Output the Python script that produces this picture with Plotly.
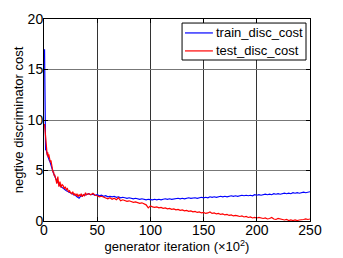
import plotly.graph_objects as go

x_a = [0.5, 1.0, 1.5, 2.0, 2.5, 3.0, 3.5, 4.0, 4.5, 5.0, 5.5, 6.0, 6.5, 7.0, 7.5, 8.0, 8.5, 9.0, 9.5, 10.0]
x_b = list(range(11, 41))
x_c = list(range(42, 251, 2))
iterations = x_a + x_b + x_c

train_disc_cost = (
    [17.0, 12.0, 7.0, 7.2, 6.8, 6.6, 6.5, 6.3, 6.2, 6.0, 5.9, 5.7, 5.6, 5.4, 5.2, 5.0, 4.9, 4.7, 4.6, 4.4]
    + [4.2, 4.0, 3.8, 3.6, 3.5, 3.4, 3.3, 3.2, 3.1, 3.05, 3.0, 2.95, 2.9, 2.8, 2.75, 2.7, 2.65, 2.6, 2.55, 2.5,
       2.4, 2.3, 2.25, 2.4, 2.5, 2.45, 2.6, 2.55, 2.6, 2.6]
    + [2.7, 2.6, 2.65, 2.55, 2.6, 2.5, 2.55, 2.45, 2.5, 2.4,
       2.45, 2.4, 2.45, 2.35, 2.4, 2.3, 2.35, 2.3, 2.25, 2.3,
       2.25, 2.2, 2.25, 2.2, 2.15, 2.2, 2.15, 2.1, 2.15, 2.1,
       2.1, 2.15, 2.1, 2.15, 2.1, 2.15, 2.2, 2.15, 2.2, 2.15,
       2.2, 2.2, 2.25, 2.2, 2.25, 2.2, 2.25, 2.3, 2.25, 2.3,
       2.3, 2.25, 2.3, 2.35, 2.3, 2.35, 2.3, 2.4, 2.35, 2.4,
       2.35, 2.4, 2.45, 2.4, 2.45, 2.4, 2.45, 2.5, 2.45, 2.5,
       2.45, 2.5, 2.55, 2.5, 2.55, 2.5, 2.55, 2.5, 2.6, 2.55,
       2.6, 2.55, 2.6, 2.65, 2.6, 2.65, 2.6, 2.7, 2.65, 2.7,
       2.65, 2.7, 2.75, 2.7, 2.75, 2.7, 2.8, 2.75, 2.8, 2.75,
       2.8, 2.85, 2.8, 2.85, 2.9]
)

test_disc_cost = (
    [9.6, 9.0, 8.2, 7.6, 7.0, 6.5, 6.8, 6.3, 6.6, 6.1, 6.0, 5.8, 6.0, 5.6, 5.3, 5.1, 4.8, 4.9, 4.5, 4.6]
    + [4.2, 3.7, 4.4, 3.4, 3.9, 3.3, 3.6, 3.5, 3.2, 3.4, 3.1, 3.2, 2.9, 3.0, 2.8, 2.7, 2.9, 2.6, 2.7, 2.5,
       2.7, 2.4, 2.6, 2.5, 2.7, 2.4, 2.6, 2.5, 2.8, 2.6]
    + [2.7, 2.6, 2.75, 2.55, 2.5, 2.4, 2.45, 2.35, 2.3, 2.2,
       2.3, 2.15, 2.25, 2.1, 2.3, 2.0, 2.1, 2.05, 1.95, 2.0,
       1.9, 1.85, 1.9, 1.8, 1.75, 1.8, 1.7, 1.6, 1.3, 1.5,
       1.4, 1.35, 1.4, 1.3, 1.35, 1.25, 1.3, 1.2, 1.25, 1.15,
       1.2, 1.1, 1.15, 1.05, 1.1, 1.0, 1.05, 0.95, 1.0, 0.9,
       0.95, 0.85, 0.9, 0.8, 0.85, 0.75, 0.8, 0.9, 0.75, 0.8,
       0.7, 0.75, 0.65, 0.7, 0.6, 0.65, 0.55, 0.6, 0.5, 0.55,
       0.5, 0.45, 0.5, 0.4, 0.45, 0.35, 0.4, 0.3, 0.35, 0.3,
       0.35, 0.3, 0.25, 0.3, 0.2, 0.25, 0.35, 0.2, 0.15, 0.25,
       0.2, 0.15, 0.1, 0.15, 0.05, 0.1, 0.05, 0.1, 0.05, 0.1,
       0.1, 0.15, 0.2, 0.15, 0.2]
)

series_names = ["train_disc_cost", "test_disc_cost"]
series_colors = ["#0000ff", "#ff0000"]
x_ticks = [0, 50, 100, 150, 200, 250]
y_ticks = [0, 5, 10, 15, 20]

fig = go.Figure()
for name, vals, col in zip(series_names, [train_disc_cost, test_disc_cost], series_colors):
    fig.add_trace(go.Scatter(x=iterations, y=vals, mode="lines", name=name,
                             line=dict(color=col, width=1.2), showlegend=False))

axis_common = dict(showline=True, linecolor="black", linewidth=1, mirror="ticks",
                   ticks="inside", ticklen=4, tickcolor="black", automargin=False,
                   showgrid=True, gridwidth=1, zeroline=False,
                   tickfont=dict(family="Liberation Sans, Arial", size=14, color="black"))

# custom legend box (paper coords of plot area)
lx0, lx1, ly0, ly1 = 0.519, 0.985, 0.797, 0.980
row_y = [0.931, 0.842]
shapes = [dict(type="rect", xref="paper", yref="paper", x0=lx0, x1=lx1, y0=ly0, y1=ly1,
               line=dict(color="black", width=1), fillcolor="white", layer="above")]
annotations = []
for name, col, ry in zip(series_names, series_colors, row_y):
    shapes.append(dict(type="line", xref="paper", yref="paper", x0=0.530, x1=0.635, y0=ry, y1=ry,
                       line=dict(color=col, width=1.2), layer="above"))
    annotations.append(dict(xref="paper", yref="paper", x=0.638, y=ry, text=name, showarrow=False,
                            xanchor="left", yanchor="middle",
                            font=dict(family="Liberation Sans, Arial", size=13, color="black")))

fig.update_layout(
    width=343, height=258,
    margin=dict(l=44, r=33, t=19, b=37, pad=0),
    paper_bgcolor="white", plot_bgcolor="white",
    font=dict(family="Liberation Sans, Arial", size=13, color="black"),
    xaxis=dict(range=[0, 250], tickvals=x_ticks, ticklabelstandoff=-4, gridcolor="#333333",
               title=dict(text="generator iteration (×10<sup>2</sup>)", standoff=1,
                          font=dict(size=13)), **axis_common),
    yaxis=dict(range=[0, 20], tickvals=y_ticks, ticklabelstandoff=-3, gridcolor="#777777",
               title=dict(text="negtive discriminator cost", standoff=1,
                          font=dict(size=13)), **axis_common),
    shapes=shapes,
    annotations=annotations,
    showlegend=False,
)

fig.write_html("out.html", config={"displayModeBar": False},
               post_script="document.body.style.margin='0';document.body.style.padding='0';")
